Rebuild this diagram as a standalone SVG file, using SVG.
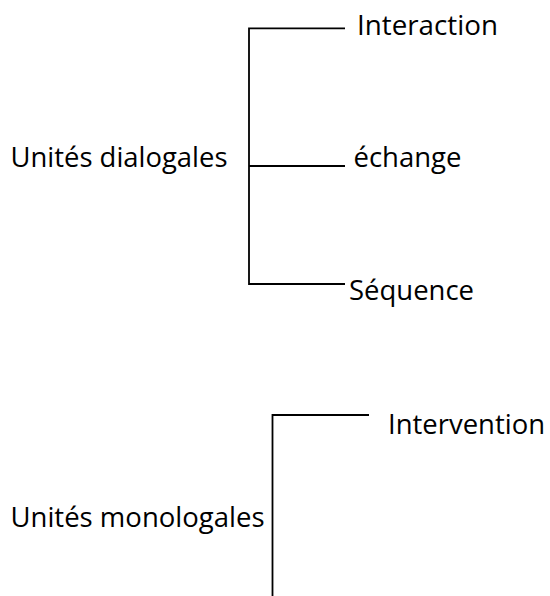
<svg xmlns="http://www.w3.org/2000/svg" width="550" height="596" viewBox="0 0 550 596">
<style>
.t{font-family:"Open Sans","Liberation Sans",sans-serif;font-size:28px;fill:#000}
.c{fill:none;stroke:#000;stroke-width:1.8}
</style>
<rect width="550" height="596" fill="#fff"/>
<g id="connectors">
<path class="c" d="M345 28.3H249V284H345M249 166H345"/>
<path class="c" d="M369 415H272.5V596"/>
</g>
<g id="n-dialogales"><text class="t" x="10.5" y="167" textLength="217" lengthAdjust="spacingAndGlyphs">Unités dialogales</text></g>
<g id="n-interaction"><text class="t" x="357" y="35" textLength="141" lengthAdjust="spacingAndGlyphs">Interaction</text></g>
<g id="n-echange"><text class="t" x="353.5" y="167" textLength="108" lengthAdjust="spacingAndGlyphs">échange</text></g>
<g id="n-sequence"><text class="t" x="349" y="300" textLength="125" lengthAdjust="spacingAndGlyphs">Séquence</text></g>
<g id="n-monologales"><text class="t" x="10.5" y="527" textLength="254" lengthAdjust="spacingAndGlyphs">Unités monologales</text></g>
<g id="n-intervention"><text class="t" x="388" y="433.5" textLength="157" lengthAdjust="spacingAndGlyphs">Intervention</text></g>
</svg>
